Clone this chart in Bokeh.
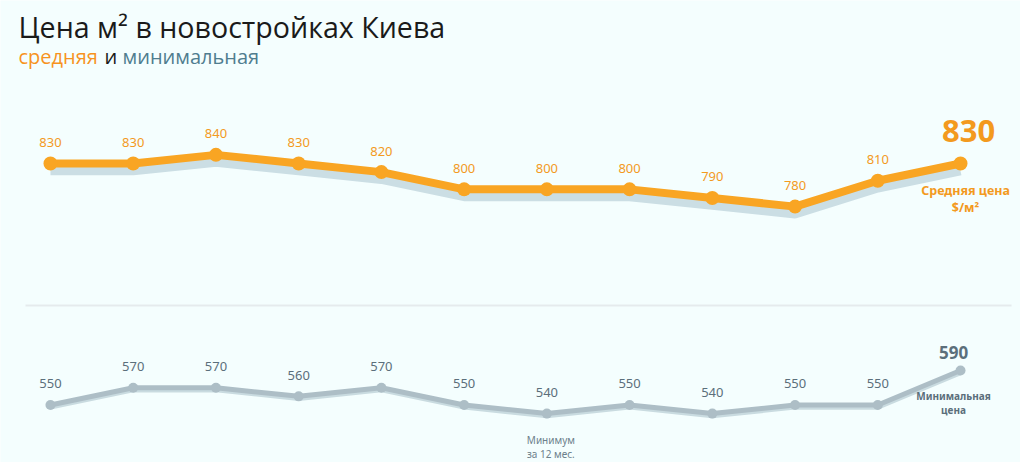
from bokeh.plotting import figure
from bokeh.models import ColumnDataSource, Label, Range1d
from bokeh.embed import file_html
from bokeh.resources import INLINE
from bokeh.core.properties import value
import numpy as np

# data
months = list(range(12))
avg_price = [830, 830, 840, 830, 820, 800, 800, 800, 790, 780, 810, 830]
min_price = [550, 570, 570, 560, 570, 550, 540, 550, 540, 550, 550, 590]
title = "Цена м² в новостройках Киева"
sub_avg = "средняя"
sub_and = "и"
sub_min = "минимальная"

BG = "#f4fefe"
ORANGE = "#f9a523"
ORANGE_TXT = "#f39a1e"
GRAY = "#adbec6"
GRAY_TXT = "#5b6f7b"
FONT = "Open Sans"
NUMFONT = "Noto Sans"

W, H = 1020, 462
p = figure(width=W, height=H, output_backend="svg", toolbar_location=None,
           x_range=Range1d(-0.604, 11.725), y_range=Range1d(483.3, 1019.0),
           min_border=0, background_fill_color=BG, border_fill_color=BG,
           outline_line_color=None)
p.axis.visible = False
p.grid.visible = False

sep = 665.4
p.segment(x0=[-0.302], y0=[sep], x1=[11.616], y1=[sep], line_color="#e5ebed", line_width=2)

avg = np.array(avg_price, dtype=float)
mn = np.array(min_price, dtype=float)
src = ColumnDataSource(dict(x=months, avg=avg, mn=mn,
                            avg_sh=avg - 8.5, mn_sh=mn - 2.5))

# shadows
p.line("x", "avg_sh", source=src, line_color="#cbdee4", line_width=9)
p.line("x", "mn_sh", source=src, line_color="#c9dbe0", line_width=5)

# main lines
p.line("x", "avg", source=src, line_color=ORANGE, line_width=8)
p.scatter("x", "avg", source=src, size=14, fill_color=ORANGE, line_color=None)
p.line("x", "mn", source=src, line_color=GRAY, line_width=5)
p.scatter("x", "mn", source=src, size=10, fill_color=GRAY, line_color=None)

# labels (all except last)
lbl_src = ColumnDataSource(dict(x=months[:-1], avg=avg[:-1], mn=mn[:-1],
                                avg_lbl=[str(v) for v in avg_price[:-1]],
                                min_lbl=[str(v) for v in min_price[:-1]]))
p.text("x", "avg", text="avg_lbl", source=lbl_src, text_align="center",
       text_baseline="middle", y_offset=-21, text_font=value(NUMFONT),
       text_font_size="13px", text_color=ORANGE_TXT)
p.text("x", "mn", text="min_lbl", source=lbl_src, text_align="center",
       text_baseline="middle", y_offset=-21, text_font=value(NUMFONT),
       text_font_size="13px", text_color=GRAY_TXT)

last = len(months) - 1
p.text(x=[months[last]], y=[avg_price[last]], text=[str(avg_price[last])],
       text_align="center", text_baseline="middle", x_offset=8, y_offset=-32,
       text_font=value(NUMFONT), text_font_size="31px", text_font_style="bold",
       text_color=ORANGE_TXT)
p.text(x=[months[last]], y=[avg_price[last]], text=["Средняя цена"],
       text_align="center", text_baseline="middle", x_offset=5, y_offset=27,
       text_font=value(NUMFONT), text_font_size="12.5px", text_font_style="bold",
       text_color=ORANGE_TXT)
p.text(x=[months[last]], y=[avg_price[last]], text=["$/м²"],
       text_align="center", text_baseline="middle", x_offset=5, y_offset=44,
       text_font=value(NUMFONT), text_font_size="12.5px", text_font_style="bold",
       text_color=ORANGE_TXT)

p.text(x=[months[last]], y=[min_price[last]], text=[str(min_price[last])],
       text_align="center", text_baseline="middle", x_offset=-7, y_offset=-18,
       text_font=value(NUMFONT), text_font_size="17px", text_font_style="bold",
       text_color=GRAY_TXT)
p.text(x=[months[last]], y=[min_price[last]], text=["Минимальная"],
       text_align="center", text_baseline="middle", x_offset=-7, y_offset=26,
       text_font=value(NUMFONT), text_font_size="10px", text_font_style="bold",
       text_color=GRAY_TXT)
p.text(x=[months[last]], y=[min_price[last]], text=["цена"],
       text_align="center", text_baseline="middle", x_offset=-7, y_offset=40,
       text_font=value(NUMFONT), text_font_size="10px", text_font_style="bold",
       text_color=GRAY_TXT)

imin = int(np.argmin(mn))
p.text(x=[months[imin]], y=[min_price[imin]], text=["Минимум"],
       text_align="center", text_baseline="middle", x_offset=4, y_offset=26,
       text_font=value(NUMFONT), text_font_size="10px", text_color="#6c808b")
p.text(x=[months[imin]], y=[min_price[imin]], text=["за 12 мес."],
       text_align="center", text_baseline="middle", x_offset=4, y_offset=40,
       text_font=value(NUMFONT), text_font_size="10px", text_color="#6c808b")

# titles
p.add_layout(Label(x=18, y=H - 26, x_units="screen", y_units="screen", text=title,
                   text_font=FONT, text_font_size="28.6px", text_color="#1a1a1a",
                   text_baseline="alphabetic"))
p.add_layout(Label(x=18, y=H - 56, x_units="screen", y_units="screen", text=sub_avg,
                   text_font=FONT, text_font_size="20px", text_color="#f7931e",
                   text_baseline="alphabetic"))
p.add_layout(Label(x=104, y=H - 56, x_units="screen", y_units="screen", text=sub_and,
                   text_font=FONT, text_font_size="20px", text_color="#1a1a1a",
                   text_baseline="alphabetic"))
p.add_layout(Label(x=122, y=H - 56, x_units="screen", y_units="screen", text=sub_min,
                   text_font=FONT, text_font_size="20px", text_color="#4f7d8f",
                   text_baseline="alphabetic"))

open("out.html", "w").write(file_html(p, INLINE))
